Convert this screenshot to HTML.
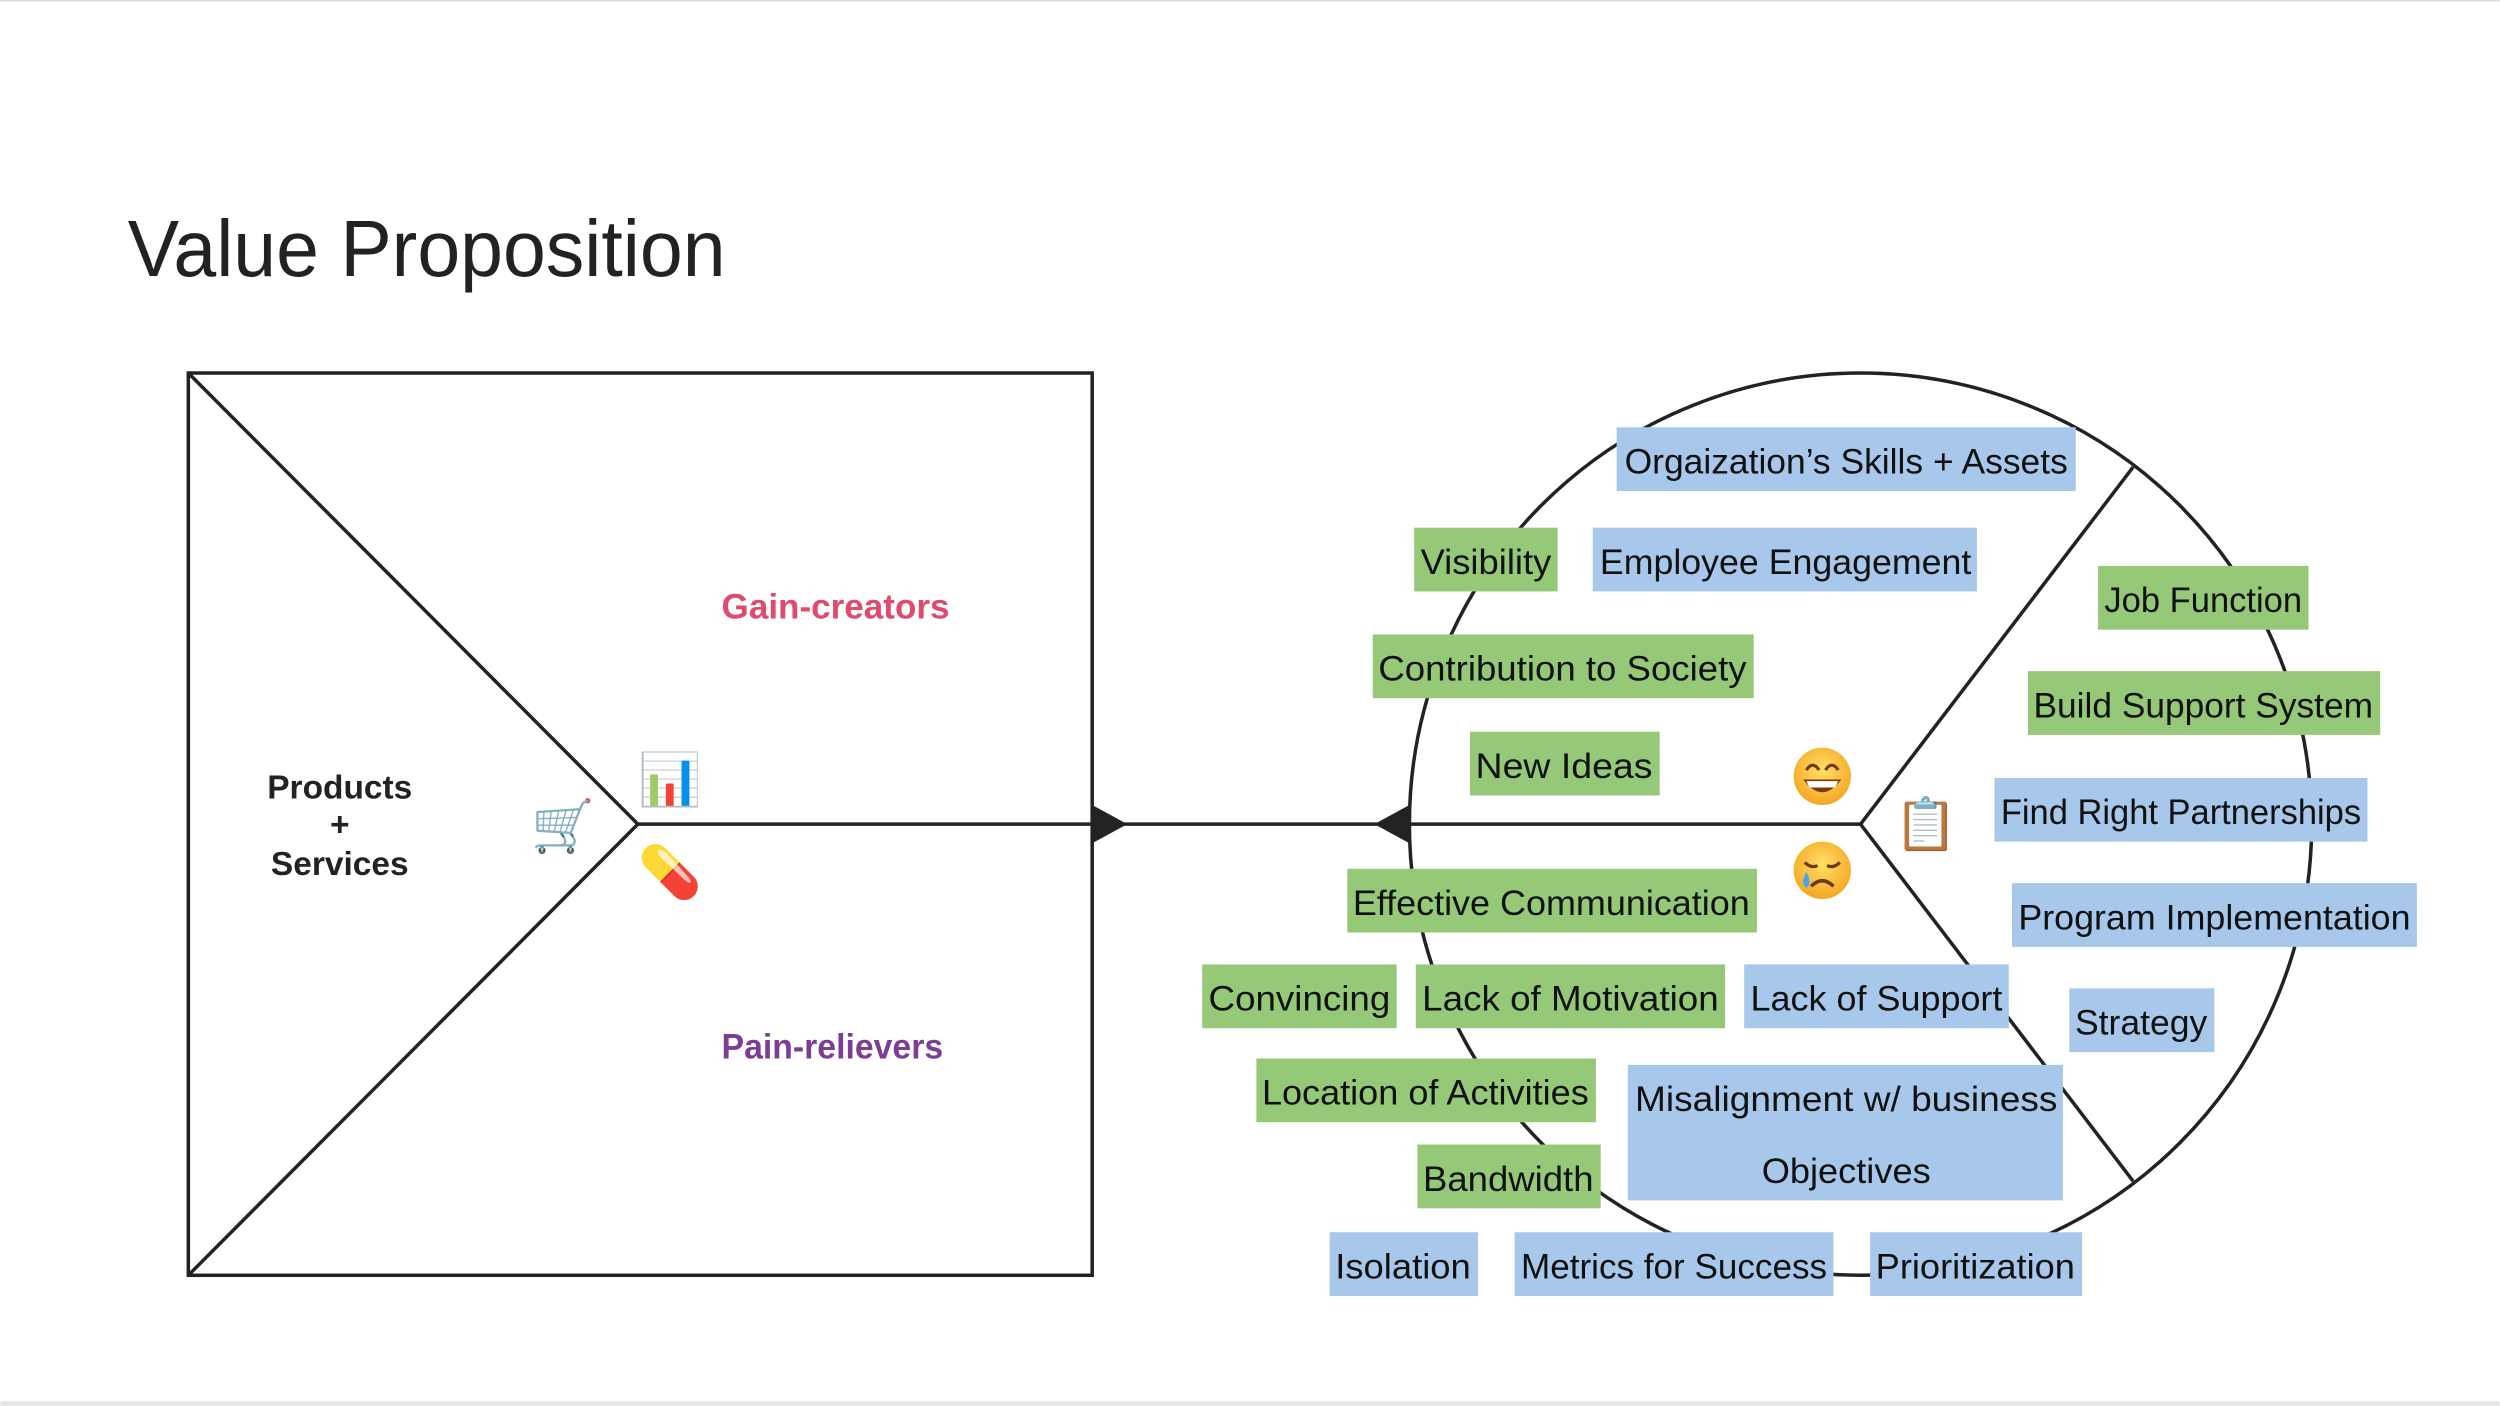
<!DOCTYPE html>
<html><head><meta charset="utf-8"><style>
html,body{margin:0;padding:0;background:#fff;}
svg{display:block;}
text{font-family:"Liberation Sans","DejaVu Sans",sans-serif;}
</style></head><body>
<svg width="2500" height="1406" viewBox="0 0 1568 882" xmlns="http://www.w3.org/2000/svg">
<defs>
<radialGradient id="fy" cx="50%" cy="40%" r="60%"><stop offset="0" stop-color="#ffe066"/><stop offset="1" stop-color="#f5a623"/></radialGradient>
</defs>
<rect x="0" y="0" width="1568" height="882" fill="#fff"/>
<line x1="0" y1="0.5" x2="1568" y2="0.5" stroke="#ddd" stroke-width="1"/>
<rect x="0" y="879" width="1568" height="3" fill="#e6e6e6"/>
<text x="80" y="173" font-size="50" fill="#222" textLength="375" lengthAdjust="spacingAndGlyphs">Value Proposition</text>
<g stroke="#222" stroke-width="2.2" fill="none">
<rect x="118" y="234" width="567" height="566"/>
<line x1="118" y1="234" x2="400" y2="517"/>
<line x1="118" y1="800" x2="400" y2="517"/>
<line x1="400" y1="517" x2="1167" y2="517"/>
<circle cx="1167" cy="517" r="283"/>
<line x1="1167" y1="517" x2="1338" y2="293"/>
<line x1="1167" y1="517" x2="1338" y2="741"/>
</g>
<polygon points="685,505 707,517 685,529" fill="#222"/>
<polygon points="884,505 862,517 884,529" fill="#222"/>
<text x="524" y="388" font-size="22" fill="#e04a6e" text-anchor="middle" font-weight="bold" textLength="143" lengthAdjust="spacingAndGlyphs">Gain-creators</text>
<text x="522" y="664" font-size="22" fill="#7c3d96" text-anchor="middle" font-weight="bold" textLength="139" lengthAdjust="spacingAndGlyphs">Pain-relievers</text>
<g font-size="21" fill="#222" text-anchor="middle" font-weight="bold">
<text x="213" y="501">Products</text><text x="213" y="524">+</text><text x="213" y="549">Services</text>
</g>
<g font-size="32" text-anchor="middle" font-family="'Noto Color Emoji','DejaVu Sans',sans-serif">
<text x="353" y="529">🛒</text>
<text x="420" y="500">📊</text>
<text x="420" y="558">💊</text>
<text x="1208" y="528">📋</text>
</g>
<!-- grin face -->
<g>
<circle cx="1143" cy="487" r="18" fill="url(#fy)"/>
<path d="M1133 483 q4 -6 8 0" stroke="#6b3a0a" stroke-width="2" fill="none"/>
<path d="M1145 483 q4 -6 8 0" stroke="#6b3a0a" stroke-width="2" fill="none"/>
<path d="M1131 489 q12 16 24 0 z" fill="#7a3b0c"/>
<path d="M1133 490 l20 0 l-2 4 l-16 0 z" fill="#fff"/>
</g>
<!-- crying face -->
<g>
<circle cx="1143" cy="546" r="18" fill="url(#fy)"/>
<path d="M1132 541 q4 4 8 2" stroke="#6b3a0a" stroke-width="2" fill="none"/>
<path d="M1146 543 q4 2 8 -2" stroke="#6b3a0a" stroke-width="2" fill="none"/>
<path d="M1136 556 q7 -7 14 0" stroke="#6b3a0a" stroke-width="2.2" fill="none"/>
<path d="M1133 547 q-4 7 0 10 q4 -3 0 -10 z" fill="#4aa3f0"/>
</g>
<g font-size="22" fill="#111">
<rect x="1014" y="268" width="288" height="40" fill="#a8c8eb"/><text x="1158" y="297" text-anchor="middle" textLength="278" lengthAdjust="spacingAndGlyphs">Orgaization’s Skills + Assets</text>
<rect x="887" y="331" width="90" height="40" fill="#95c977"/><text x="932" y="360" text-anchor="middle" textLength="82" lengthAdjust="spacingAndGlyphs">Visibility</text>
<rect x="999" y="331" width="241" height="40" fill="#a8c8eb"/><text x="1120" y="360" text-anchor="middle" textLength="233" lengthAdjust="spacingAndGlyphs">Employee Engagement</text>
<rect x="1316" y="355" width="132" height="40" fill="#95c977"/><text x="1382" y="384" text-anchor="middle" textLength="124" lengthAdjust="spacingAndGlyphs">Job Function</text>
<rect x="861" y="398" width="239" height="40" fill="#95c977"/><text x="980" y="427" text-anchor="middle" textLength="231" lengthAdjust="spacingAndGlyphs">Contribution to Society</text>
<rect x="1272" y="421" width="221" height="40" fill="#95c977"/><text x="1382" y="450" text-anchor="middle" textLength="213" lengthAdjust="spacingAndGlyphs">Build Support System</text>
<rect x="922" y="459" width="119" height="40" fill="#95c977"/><text x="981" y="488" text-anchor="middle" textLength="111" lengthAdjust="spacingAndGlyphs">New Ideas</text>
<rect x="1251" y="488" width="234" height="40" fill="#a8c8eb"/><text x="1368" y="517" text-anchor="middle" textLength="226" lengthAdjust="spacingAndGlyphs">Find Right Partnerships</text>
<rect x="845" y="545" width="257" height="40" fill="#95c977"/><text x="973" y="574" text-anchor="middle" textLength="249" lengthAdjust="spacingAndGlyphs">Effective Communication</text>
<rect x="1262" y="554" width="254" height="40" fill="#a8c8eb"/><text x="1389" y="583" text-anchor="middle" textLength="246" lengthAdjust="spacingAndGlyphs">Program Implementation</text>
<rect x="754" y="605" width="122" height="40" fill="#95c977"/><text x="815" y="634" text-anchor="middle" textLength="114" lengthAdjust="spacingAndGlyphs">Convincing</text>
<rect x="888" y="605" width="194" height="40" fill="#95c977"/><text x="985" y="634" text-anchor="middle" textLength="186" lengthAdjust="spacingAndGlyphs">Lack of Motivation</text>
<rect x="1094" y="605" width="166" height="40" fill="#a8c8eb"/><text x="1177" y="634" text-anchor="middle" textLength="158" lengthAdjust="spacingAndGlyphs">Lack of Support</text>
<rect x="1298" y="620" width="91" height="40" fill="#a8c8eb"/><text x="1343" y="649" text-anchor="middle" textLength="83" lengthAdjust="spacingAndGlyphs">Strategy</text>
<rect x="788" y="664" width="213" height="40" fill="#95c977"/><text x="894" y="693" text-anchor="middle" textLength="205" lengthAdjust="spacingAndGlyphs">Location of Activities</text>
<rect x="1021" y="668" width="273" height="85" fill="#a8c8eb"/><text x="1158" y="697" text-anchor="middle" textLength="265" lengthAdjust="spacingAndGlyphs">Misalignment w/ business</text><text x="1158" y="742" text-anchor="middle" textLength="106" lengthAdjust="spacingAndGlyphs">Objectives</text>
<rect x="889" y="718" width="115" height="40" fill="#95c977"/><text x="946" y="747" text-anchor="middle" textLength="107" lengthAdjust="spacingAndGlyphs">Bandwidth</text>
<rect x="834" y="773" width="93" height="40" fill="#a8c8eb"/><text x="880" y="802" text-anchor="middle" textLength="85" lengthAdjust="spacingAndGlyphs">Isolation</text>
<rect x="950" y="773" width="200" height="40" fill="#a8c8eb"/><text x="1050" y="802" text-anchor="middle" textLength="192" lengthAdjust="spacingAndGlyphs">Metrics for Success</text>
<rect x="1173" y="773" width="133" height="40" fill="#a8c8eb"/><text x="1239" y="802" text-anchor="middle" textLength="125" lengthAdjust="spacingAndGlyphs">Prioritization</text>
</g>
</svg>
</body></html>
